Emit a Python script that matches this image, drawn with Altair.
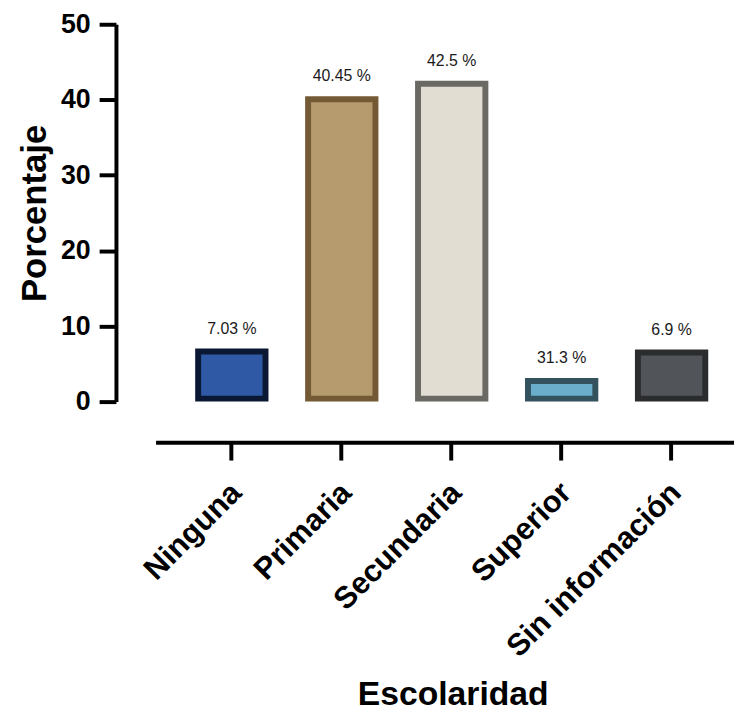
import altair as alt
import pandas as pd

categories = ["Ninguna", "Primaria", "Secundaria", "Superior", "Sin información"]
values = [7.03, 40.45, 42.5, 3.13, 6.9]
labels = ["7.03 %", "40.45 %", "42.5 %", "31.3 %", "6.9 %"]
fill_colors = ["#2f59a5", "#b59b6e", "#e2ddd3", "#6aaecb", "#515458"]
stroke_colors = ["#0b1834", "#735a34", "#6b6964", "#33525e", "#2a2c2e"]
y_ticks = [0, 10, 20, 30, 40, 50]

df = pd.DataFrame({"cat": categories, "value": values, "label": labels, "base": [0] * 5})

FONT = "Liberation Sans"

x_enc = alt.X(
    "cat:N",
    sort=categories,
    scale=alt.Scale(paddingInner=0, paddingOuter=0.1306, align=0.741),
    axis=alt.Axis(
        title="Escolaridad",
        labelAngle=-45,
        labelAlign="right",
        labelBaseline="middle",
        labelFont=FONT,
        labelFontSize=31,
        labelFontWeight="bold",
        labelColor="black",
        labelPadding=28,
        labelOffset=5,
        labelLimit=0,
        tickSize=18,
        tickWidth=4,
        tickColor="black",
        domainWidth=4,
        domainColor="black",
        offset=41,
        titleFont=FONT,
        titleFontSize=34,
        titleFontWeight="bold",
        titleColor="black",
        titlePadding=38,
        titleX=300,
        titleAlign="center",
        grid=False,
    ),
)

y_enc = alt.Y(
    "value:Q",
    scale=alt.Scale(domain=[0, 50], nice=False),
    axis=alt.Axis(
        title="Porcentaje",
        values=y_ticks,
        labelFont=FONT,
        labelFontSize=27,
        labelFontWeight="bold",
        labelColor="black",
        labelPadding=9,
        tickSize=17,
        tickWidth=4,
        tickColor="black",
        domainWidth=4,
        domainColor="black",
        offset=40,
        titleFont=FONT,
        titleFontSize=35,
        titleFontWeight="bold",
        titleColor="black",
        titlePadding=8,
        grid=False,
    ),
)

outer = alt.Chart(df).mark_bar(width=74).encode(
    x=x_enc,
    y=y_enc,
    y2=alt.Y2("base:Q"),
    color=alt.Color("cat:N", scale=alt.Scale(domain=categories, range=stroke_colors), legend=None),
)

inner = alt.Chart(df).mark_bar(width=62, yOffset=6, y2Offset=-6).encode(
    x=alt.X("cat:N", sort=categories),
    y=alt.Y("value:Q"),
    y2=alt.Y2("base:Q"),
    fill=alt.Fill("cat:N", scale=alt.Scale(domain=categories, range=fill_colors), legend=None),
)

text = alt.Chart(df).mark_text(
    dy=-15, baseline="alphabetic", fontSize=16, font=FONT, color="#1a1a1a"
).encode(
    x=alt.X("cat:N", sort=categories),
    y=alt.Y("value:Q"),
    text="label:N",
)

chart = (
    alt.layer(outer, inner, text)
    .resolve_scale(color="independent")
    .properties(
        width=584,
        height=381,
        autosize=alt.AutoSizeParams(type="none"),
        padding={"left": 149, "top": 13, "right": 0, "bottom": 313},
        background="white",
    )
    .configure_view(strokeWidth=0, stroke="transparent")
)

chart.save("out.html", embed_options={"renderer": "svg", "actions": False})
